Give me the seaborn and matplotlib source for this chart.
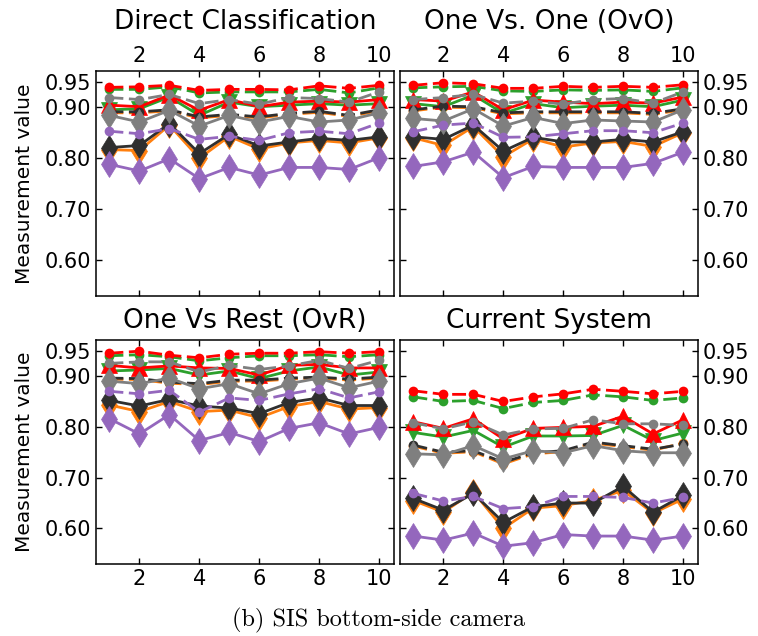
import numpy as np
import pandas as pd
import matplotlib
matplotlib.use("Agg")
import matplotlib.pyplot as plt
import seaborn as sns

sns.set_style("ticks")
plt.rcParams["font.family"] = ["DejaVu Sans"]
plt.rcParams["text.color"] = "black"
plt.rcParams["axes.labelcolor"] = "black"
plt.rcParams["xtick.color"] = "black"
plt.rcParams["ytick.color"] = "black"

x_vals = list(range(1, 11))
panel_titles = ["Direct Classification", "One Vs. One (OvO)",
                "One Vs Rest (OvR)", "Current System"]
y_ticks = [0.60, 0.70, 0.80, 0.90, 0.95]
y_tick_labels = ["0.60", "0.70", "0.80", "0.90", "0.95"]
x_ticks = [2, 4, 6, 8, 10]
caption = "(b) SIS bottom-side camera"
y_label = "Measurement value"

# ---- Direct Classification ----
dc_red_solid = [0.904, 0.901, 0.924, 0.894, 0.915, 0.901, 0.910, 0.912, 0.910, 0.915]
dc_red_dash = [0.939, 0.940, 0.943, 0.933, 0.935, 0.935, 0.934, 0.942, 0.937, 0.943]
dc_green_solid = [0.895, 0.897, 0.920, 0.884, 0.910, 0.901, 0.904, 0.907, 0.904, 0.907]
dc_green_dash = [0.935, 0.935, 0.940, 0.928, 0.930, 0.930, 0.930, 0.935, 0.928, 0.938]
dc_gray_solid = [0.884, 0.871, 0.894, 0.863, 0.884, 0.871, 0.882, 0.871, 0.875, 0.889]
dc_gray_dash = [0.919, 0.915, 0.925, 0.907, 0.915, 0.906, 0.919, 0.917, 0.910, 0.930]
dc_black_solid = [0.821, 0.825, 0.868, 0.809, 0.847, 0.824, 0.832, 0.839, 0.835, 0.842]
dc_black_dash = [0.891, 0.891, 0.895, 0.881, 0.886, 0.881, 0.888, 0.892, 0.884, 0.895]
dc_orange_solid = [0.817, 0.815, 0.865, 0.800, 0.843, 0.818, 0.830, 0.835, 0.830, 0.840]
dc_orange_dash = [0.889, 0.889, 0.893, 0.879, 0.884, 0.879, 0.886, 0.890, 0.882, 0.893]
dc_purple_solid = [0.788, 0.775, 0.799, 0.760, 0.782, 0.767, 0.782, 0.782, 0.778, 0.801]
dc_purple_dash = [0.853, 0.848, 0.858, 0.837, 0.843, 0.835, 0.850, 0.853, 0.848, 0.869]

# ---- One Vs. One ----
ovo_red_solid = [0.915, 0.912, 0.930, 0.895, 0.914, 0.910, 0.907, 0.910, 0.908, 0.920]
ovo_red_dash = [0.943, 0.948, 0.946, 0.937, 0.937, 0.941, 0.939, 0.941, 0.939, 0.944]
ovo_green_solid = [0.907, 0.901, 0.924, 0.888, 0.907, 0.899, 0.902, 0.904, 0.901, 0.914]
ovo_green_dash = [0.938, 0.940, 0.941, 0.932, 0.931, 0.934, 0.933, 0.934, 0.931, 0.938]
ovo_gray_solid = [0.878, 0.873, 0.897, 0.863, 0.880, 0.868, 0.875, 0.873, 0.871, 0.895]
ovo_gray_dash = [0.915, 0.919, 0.925, 0.908, 0.912, 0.906, 0.915, 0.917, 0.908, 0.930]
ovo_black_solid = [0.842, 0.837, 0.865, 0.814, 0.841, 0.832, 0.832, 0.837, 0.832, 0.852]
ovo_black_dash = [0.895, 0.902, 0.901, 0.889, 0.891, 0.891, 0.891, 0.891, 0.888, 0.897]
ovo_orange_solid = [0.840, 0.825, 0.862, 0.803, 0.838, 0.822, 0.830, 0.833, 0.823, 0.850]
ovo_orange_dash = [0.893, 0.900, 0.899, 0.887, 0.889, 0.889, 0.889, 0.889, 0.886, 0.895]
ovo_purple_solid = [0.784, 0.793, 0.812, 0.762, 0.784, 0.782, 0.782, 0.782, 0.790, 0.812]
ovo_purple_dash = [0.852, 0.865, 0.869, 0.841, 0.842, 0.848, 0.854, 0.854, 0.850, 0.869]

# ---- One Vs Rest ----
ovr_red_solid = [0.921, 0.916, 0.920, 0.916, 0.915, 0.902, 0.921, 0.923, 0.916, 0.916]
ovr_red_dash = [0.945, 0.949, 0.941, 0.936, 0.943, 0.945, 0.945, 0.948, 0.945, 0.948]
ovr_green_solid = [0.910, 0.912, 0.915, 0.902, 0.910, 0.895, 0.910, 0.918, 0.902, 0.908]
ovr_green_dash = [0.940, 0.942, 0.938, 0.930, 0.936, 0.940, 0.940, 0.942, 0.938, 0.942]
ovr_gray_solid = [0.890, 0.885, 0.896, 0.875, 0.885, 0.865, 0.885, 0.896, 0.877, 0.890]
ovr_gray_dash = [0.925, 0.928, 0.928, 0.908, 0.921, 0.913, 0.920, 0.931, 0.915, 0.931]
ovr_black_solid = [0.852, 0.841, 0.854, 0.841, 0.837, 0.826, 0.848, 0.857, 0.842, 0.842]
ovr_black_dash = [0.896, 0.895, 0.888, 0.885, 0.892, 0.892, 0.896, 0.898, 0.894, 0.898]
ovr_orange_solid = [0.843, 0.830, 0.850, 0.830, 0.833, 0.818, 0.840, 0.850, 0.835, 0.838]
ovr_orange_dash = [0.894, 0.893, 0.886, 0.883, 0.890, 0.890, 0.894, 0.896, 0.892, 0.896]
ovr_purple_solid = [0.816, 0.786, 0.824, 0.773, 0.789, 0.771, 0.797, 0.808, 0.786, 0.799]
ovr_purple_dash = [0.870, 0.865, 0.872, 0.829, 0.857, 0.852, 0.865, 0.875, 0.857, 0.869]

# ---- Current System ----
cs_red_solid = [0.810, 0.797, 0.816, 0.776, 0.797, 0.799, 0.801, 0.821, 0.786, 0.814]
cs_red_dash = [0.871, 0.864, 0.864, 0.850, 0.859, 0.865, 0.874, 0.870, 0.865, 0.870]
cs_green_solid = [0.789, 0.780, 0.793, 0.760, 0.782, 0.782, 0.783, 0.803, 0.773, 0.788]
cs_green_dash = [0.859, 0.850, 0.852, 0.836, 0.848, 0.852, 0.863, 0.859, 0.852, 0.857]
cs_gray_solid = [0.747, 0.745, 0.763, 0.737, 0.753, 0.749, 0.763, 0.753, 0.749, 0.749]
cs_gray_dash = [0.808, 0.796, 0.810, 0.784, 0.796, 0.797, 0.814, 0.806, 0.806, 0.803]
cs_black_solid = [0.659, 0.636, 0.669, 0.612, 0.643, 0.650, 0.650, 0.683, 0.632, 0.665]
cs_black_dash = [0.764, 0.750, 0.753, 0.730, 0.749, 0.753, 0.770, 0.763, 0.756, 0.766]
cs_orange_solid = [0.655, 0.632, 0.672, 0.600, 0.640, 0.645, 0.655, 0.675, 0.630, 0.658]
cs_orange_dash = [0.762, 0.748, 0.751, 0.727, 0.747, 0.751, 0.768, 0.761, 0.754, 0.768]
cs_purple_solid = [0.585, 0.577, 0.591, 0.565, 0.572, 0.588, 0.585, 0.585, 0.577, 0.585]
cs_purple_dash = [0.669, 0.654, 0.663, 0.639, 0.643, 0.663, 0.663, 0.661, 0.650, 0.661]

panels = [
    {"orange": (dc_orange_solid, dc_orange_dash), "green": (dc_green_solid, dc_green_dash),
     "red": (dc_red_solid, dc_red_dash), "black": (dc_black_solid, dc_black_dash),
     "gray": (dc_gray_solid, dc_gray_dash), "purple": (dc_purple_solid, dc_purple_dash)},
    {"orange": (ovo_orange_solid, ovo_orange_dash), "green": (ovo_green_solid, ovo_green_dash),
     "red": (ovo_red_solid, ovo_red_dash), "black": (ovo_black_solid, ovo_black_dash),
     "gray": (ovo_gray_solid, ovo_gray_dash), "purple": (ovo_purple_solid, ovo_purple_dash)},
    {"orange": (ovr_orange_solid, ovr_orange_dash), "green": (ovr_green_solid, ovr_green_dash),
     "red": (ovr_red_solid, ovr_red_dash), "black": (ovr_black_solid, ovr_black_dash),
     "gray": (ovr_gray_solid, ovr_gray_dash), "purple": (ovr_purple_solid, ovr_purple_dash)},
    {"orange": (cs_orange_solid, cs_orange_dash), "green": (cs_green_solid, cs_green_dash),
     "red": (cs_red_solid, cs_red_dash), "black": (cs_black_solid, cs_black_dash),
     "gray": (cs_gray_solid, cs_gray_dash), "purple": (cs_purple_solid, cs_purple_dash)},
]

colors = {"orange": "#ff7f0e", "green": "#2ca02c", "red": "#ff0000",
          "black": "#2f2f2f", "gray": "#7f7f7f", "purple": "#9467bd"}
solid_markers = {"orange": ("d", 13), "green": ("v", 11), "red": ("^", 11),
                 "black": ("d", 13), "gray": ("d", 13), "purple": ("d", 13)}

fig = plt.figure(figsize=(7.58, 6.36), dpi=100)
W, H = 758, 636
boxes = [(96, 71, 394, 296), (400, 71, 698, 296),
         (96, 340, 394, 564), (400, 340, 698, 564)]

for i, (box, title, data) in enumerate(zip(boxes, panel_titles, panels)):
    l, t, r, b = box
    ax = fig.add_axes([l / W, 1 - b / H, (r - l) / W, (b - t) / H])
    for name, (solid, dash) in data.items():
        c = colors[name]
        df_s = pd.DataFrame({"x": x_vals, "y": solid})
        df_d = pd.DataFrame({"x": x_vals, "y": dash})
        m, ms = solid_markers[name]
        sns.lineplot(data=df_s, x="x", y="y", ax=ax, color=c, linewidth=2.0,
                     marker=m, markersize=ms, markeredgewidth=0.5,
                     markeredgecolor=c)
        sns.lineplot(data=df_d, x="x", y="y", ax=ax, color=c, linewidth=2.0,
                     linestyle=(0, (5, 2)), marker="o", markersize=7,
                     markeredgewidth=0, markeredgecolor=c)
    ax.set_xlim(0.55, 10.5)
    ax.set_ylim(0.53, 0.971)
    ax.set_xticks(x_ticks)
    ax.set_yticks(y_ticks)
    ax.set_yticklabels(y_tick_labels)
    ax.set_xlabel("")
    ax.set_ylabel("")
    ax.tick_params(direction="in", top=True, bottom=True, left=True, right=True,
                   labelsize=15, length=4, width=1)
    top_row = i < 2
    left_col = i % 2 == 0
    ax.tick_params(labeltop=top_row, labelbottom=not top_row,
                   labelleft=left_col, labelright=not left_col)
    for s in ax.spines.values():
        s.set_linewidth(1.1)
        s.set_color("black")
    ax.set_title(title, fontsize=19, pad=12 if top_row else 9)
    if left_col:
        ax.set_ylabel(y_label, fontsize=14.5, labelpad=8)

fig.text(0.5, 1 - 620 / H, caption, ha="center", va="center",
         fontsize=17.5, family="cmr10")

fig.savefig("out.png", dpi=100)
